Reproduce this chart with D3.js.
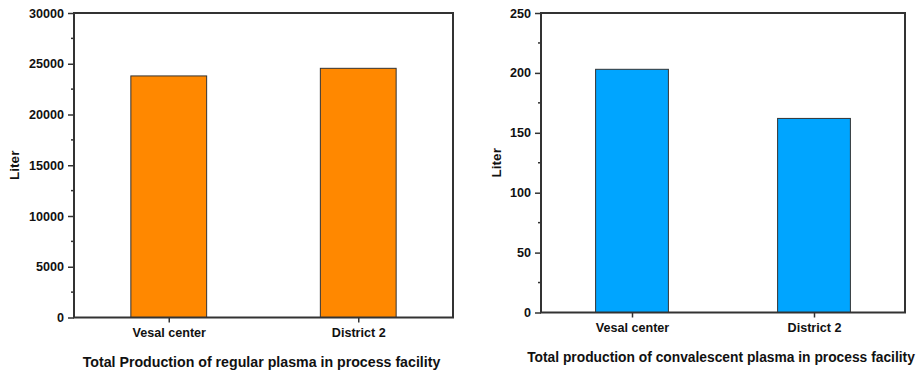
<!DOCTYPE html>
<html>
<head>
<meta charset="utf-8">
<script src="https://cdn.jsdelivr.net/npm/d3@7"></script>
<style>
  body { margin: 0; background: #fff; }
  svg { display: block; font-family: "Liberation Sans", Arial, sans-serif; }
  .tick text { font-weight: bold; font-size: 12.6px; fill: #111; }
</style>
</head>
<body>
<svg id="chart" width="924" height="375"></svg>
<script>
// Site names shared by both panels
const sites = ["Vesal center", "District 2"];

// Regular plasma output (liters)
const regularValues = [23800, 24550];
const regularTicks = [0, 5000, 10000, 15000, 20000, 25000, 30000];

// Convalescent plasma output (liters)
const convalescentValues = [203, 162];
const convalescentTicks = [0, 50, 100, 150, 200, 250];

const svg = d3.select("#chart");

function drawPanel(opts) {
  const { left, right, top, bottom, values, ticks, maxY, color, title, titleY, titleSize, yLabelX } = opts;
  const g = svg.append("g");
  const data = sites.map((s, i) => ({ site: s, value: values[i] }));

  const x = d3.scalePoint().domain(sites).range([left, right]).padding(0.5);
  const bw = (right - left) * 0.2;
  const y = d3.scaleLinear().domain([0, maxY]).range([bottom, top]);

  // bars
  g.selectAll("rect.bar").data(data).join("rect")
    .attr("class", "bar")
    .attr("x", d => x(d.site) - bw / 2)
    .attr("y", d => y(d.value))
    .attr("width", bw)
    .attr("height", d => y(0) - y(d.value))
    .attr("fill", color)
    .attr("stroke", "#333")
    .attr("stroke-width", 1);

  // minor ticks on y axis
  const minor = d3.range(0, ticks.length - 1).map(i => (ticks[i] + ticks[i + 1]) / 2);
  g.selectAll("line.minor").data(minor).join("line")
    .attr("x1", left).attr("x2", left - 3)
    .attr("y1", d => y(d)).attr("y2", d => y(d))
    .attr("stroke", "#333").attr("stroke-width", 1.5);

  // y axis
  const yAxis = g.append("g")
    .attr("transform", `translate(${left},0)`)
    .call(d3.axisLeft(y).tickValues(ticks).tickSize(6).tickPadding(4).tickFormat(d3.format("d")));
  yAxis.select(".domain").remove();
  yAxis.selectAll(".tick line").attr("stroke", "#333").attr("stroke-width", 1.5);

  // x axis
  const xAxis = g.append("g")
    .attr("transform", `translate(0,${bottom})`)
    .call(d3.axisBottom(x).tickSize(5).tickPadding(6));
  xAxis.select(".domain").remove();
  xAxis.selectAll(".tick line").attr("stroke", "#333").attr("stroke-width", 1.5);
  xAxis.selectAll(".tick text").attr("font-size", 12.6);

  // frame
  g.append("rect")
    .attr("x", left).attr("y", top)
    .attr("width", right - left).attr("height", bottom - top)
    .attr("fill", "none").attr("stroke", "#333").attr("stroke-width", 2);

  // y label
  g.append("text")
    .attr("transform", `translate(${yLabelX},${(top + bottom) / 2}) rotate(-90)`)
    .attr("text-anchor", "middle")
    .attr("font-weight", "bold").attr("font-size", 13.5).attr("fill", "#111")
    .text("Liter");

  // panel title
  g.append("text")
    .attr("x", (left + right) / 2 - 2).attr("y", titleY)
    .attr("text-anchor", "middle")
    .attr("font-weight", "bold").attr("font-size", titleSize).attr("fill", "#111")
    .text(title);
}

drawPanel({
  left: 74, right: 453, top: 13, bottom: 317.5,
  values: regularValues, ticks: regularTicks, maxY: 30000,
  color: "#ff8800",
  title: "Total Production of regular plasma in process facility",
  titleY: 367, titleSize: 14.2, yLabelX: 19
});

drawPanel({
  left: 541, right: 905, top: 13, bottom: 312.5,
  values: convalescentValues, ticks: convalescentTicks, maxY: 250,
  color: "#00a5ff",
  title: "Total production of convalescent plasma in process facility",
  titleY: 362, titleSize: 13.8, yLabelX: 501
});
</script>
</body>
</html>
